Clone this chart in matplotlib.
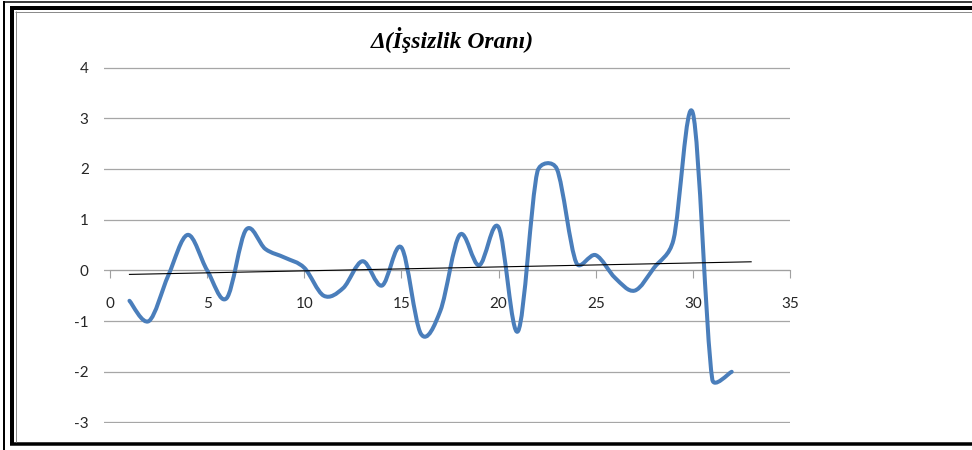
import numpy as np
import matplotlib.pyplot as plt
from matplotlib.path import Path
from matplotlib.patches import PathPatch
from matplotlib.lines import Line2D

plt.rcParams['axes.unicode_minus'] = False

# data
donem = list(range(1, 33))
degisim = [-0.6, -1.0, -0.1, 0.7, 0.0, -0.55, 0.8, 0.42, 0.25, 0.05,
           -0.5, -0.35, 0.18, -0.3, 0.45, -1.25, -0.8, 0.7, 0.1, 0.85,
           -1.2, 1.95, 2.0, 0.15, 0.3, -0.15, -0.4, 0.05, 0.6, 3.1,
           -2.15, -2.0]
x_ticks = [0, 5, 10, 15, 20, 25, 30, 35]
y_ticks = [-3, -2, -1, 0, 1, 2, 3, 4]
baslik = 'Δ(İşsizlik Oranı)'

W, H = 972, 450
fig = plt.figure(figsize=(W / 100, H / 100), dpi=100)
ax = fig.add_axes([104 / W, 1 - 423 / H, (790 - 104) / W, (423 - 67) / H])
ax.set_xlim(-0.31, 35)
ax.set_ylim(-3.01, 4.01)

# smooth line like excel: catmull-rom to bezier, arms worked out in pixels
# and kept to half a segment so short steps do not overshoot
pts = np.column_stack([donem, degisim])
pix = ax.transData.transform(pts)
ext = np.vstack([pix[0], pix, pix[-1]])


def kol(a, b, seg):
    v = (b - a) / 6
    n = np.hypot(*v)
    lim = 0.5 * seg
    return v * (lim / n) if n > lim else v


verts = [pix[0]]
codes = [Path.MOVETO]
for i in range(1, len(ext) - 2):
    p0, p1, p2, p3 = ext[i - 1], ext[i], ext[i + 1], ext[i + 2]
    seg = np.hypot(*(p2 - p1))
    verts += [p1 + kol(p0, p2, seg), p2 - kol(p1, p3, seg), p2]
    codes += [Path.CURVE4] * 3
verts = ax.transData.inverted().transform(np.array(verts))
ax.add_patch(PathPatch(Path(verts, codes), fill=False, edgecolor='#4A7EBB',
                       lw=2.9, capstyle='round', joinstyle='round', zorder=3))

# linear trend line
a, b = np.polyfit(donem, degisim, 1)
tx = np.array([donem[0], donem[-1] + 1])
ax.plot(tx, a * tx + b, color='black', lw=0.8, zorder=4)

ax.set_xticks(x_ticks)
ax.set_yticks(y_ticks)
ax.yaxis.grid(True, color='#a6a6a6', lw=0.9)
ax.set_axisbelow(True)
for s in ['top', 'right', 'left']:
    ax.spines[s].set_visible(False)
ax.spines['bottom'].set_position(('data', 0))
ax.spines['bottom'].set_color('#a0a0a0')
ax.spines['bottom'].set_bounds(0, 35)
ax.tick_params(axis='x', direction='out', length=6, color='#a0a0a0',
               pad=13, labelsize=11)
ax.tick_params(axis='y', length=0, pad=11, labelsize=11)
for t in ax.get_xticklabels() + ax.get_yticklabels():
    t.set_fontfamily('Lato')
    t.set_color('#262626')

fig.text(452 / W, 1 - 40 / H, baslik, ha='center', va='center',
         family=['Liberation Serif', 'DejaVu Serif'], weight='bold',
         style='italic', fontsize=17)


# the double frame around the picture
def cizgi(x0, y0, x1, y1, px, renk='black'):
    fig.add_artist(Line2D([x0 / W, x1 / W], [1 - y0 / H, 1 - y1 / H],
                          transform=fig.transFigure, lw=px * 0.72,
                          color=renk, solid_capstyle='butt'))


cizgi(3, 1.7, W, 1.7, 1.5)
cizgi(4, 1, 4, H, 2)
cizgi(10, 8, W, 8, 4)
cizgi(12, 6, 12, 445, 4)
cizgi(10, 443.5, W, 443.5, 3.5)
cizgi(15, 11.5, W, 11.5, 1, '#8c8c8c')
cizgi(15.5, 11, 15.5, 441.5, 1, '#8c8c8c')

fig.savefig('out.png', dpi=100)
